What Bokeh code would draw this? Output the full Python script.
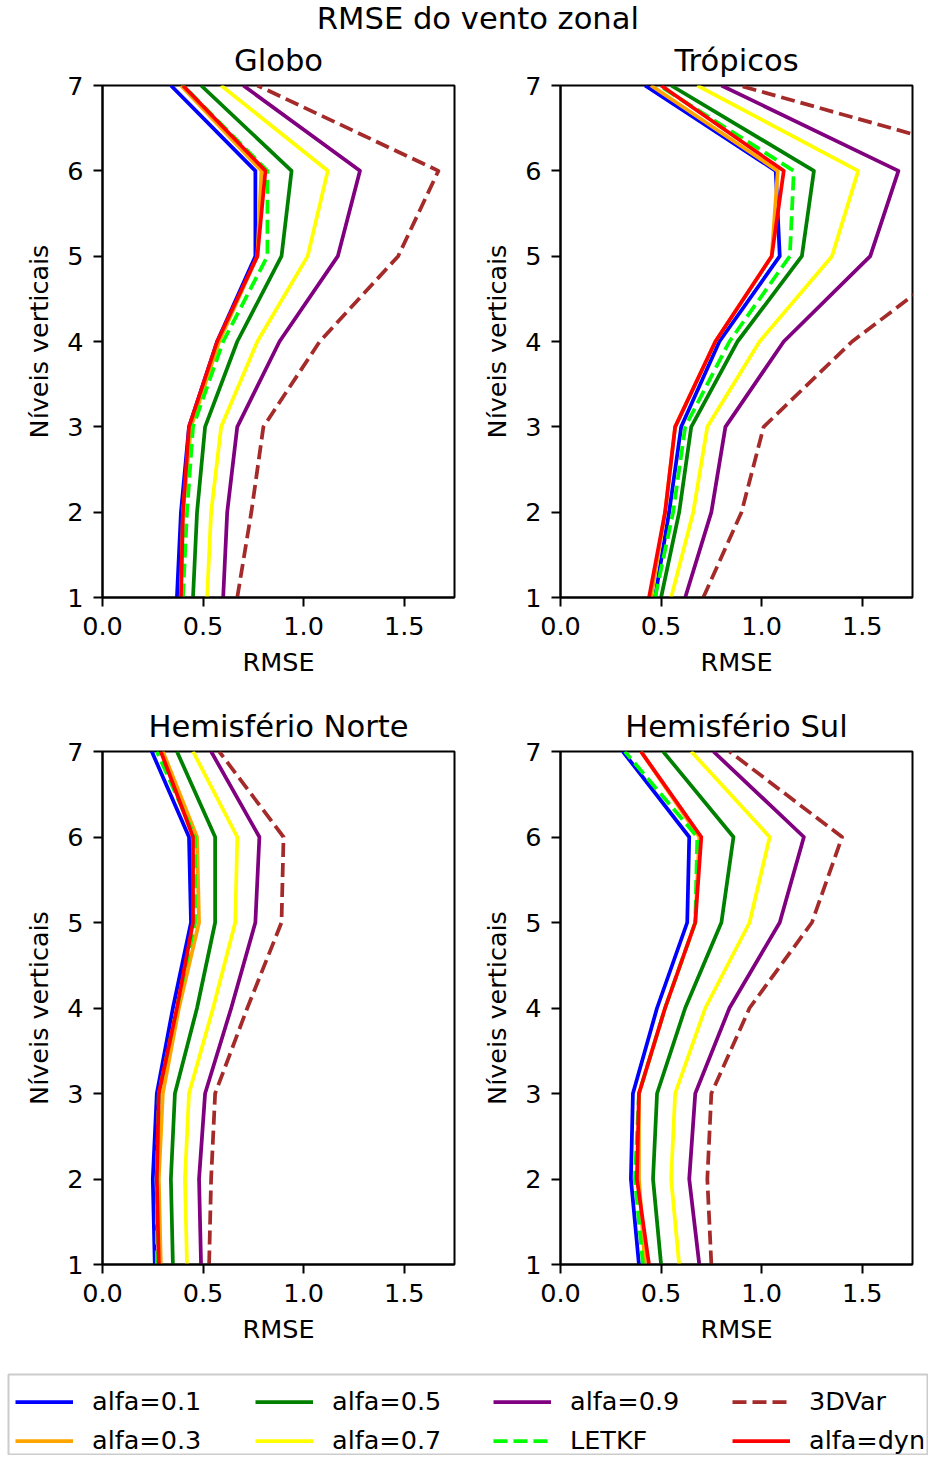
from bokeh.plotting import figure
from bokeh.models import (Range1d, FixedTicker, NumeralTickFormatter, Label, Legend,
                          LegendItem, ColumnDataSource)
from bokeh.layouts import column, row
from bokeh.embed import file_html
from bokeh.resources import INLINE

# ---------------- data ----------------
levels = [1, 2, 3, 4, 5, 6, 7]
x_ticks = [0.0, 0.5, 1.0, 1.5]
y_ticks = [1, 2, 3, 4, 5, 6, 7]
x_limits = (0, 1.75)
y_limits = (1, 7)

series_names = ["alfa=0.1", "alfa=0.3", "alfa=0.5", "alfa=0.7",
                "alfa=0.9", "LETKF", "3DVar", "alfa=dyn"]
series_colors = ["#0000ff", "#ffa500", "#008000", "#ffff00",
                 "#800080", "#00ff00", "#a52a2a", "#ff0000"]
series_dashes = ["solid", "solid", "solid", "solid",
                 "solid", "14 6", "14 6", "solid"]

main_title = "RMSE do vento zonal"
panel_titles = ["Globo", "Trópicos", "Hemisfério Norte", "Hemisfério Sul"]

# RMSE per level (levels 1..7)
globo_a01 = [0.37, 0.39, 0.43, 0.57, 0.76, 0.76, 0.34]
globo_a03 = [0.39, 0.40, 0.44, 0.58, 0.77, 0.79, 0.39]
globo_a05 = [0.45, 0.47, 0.51, 0.67, 0.89, 0.94, 0.49]
globo_a07 = [0.52, 0.54, 0.59, 0.77, 1.02, 1.12, 0.59]
globo_a09 = [0.60, 0.62, 0.67, 0.88, 1.17, 1.28, 0.70]
globo_letkf = [0.40, 0.42, 0.45, 0.60, 0.82, 0.82, 0.40]
globo_3dvar = [0.67, 0.74, 0.80, 1.08, 1.47, 1.67, 0.77]
globo_dyn = [0.39, 0.40, 0.43, 0.57, 0.77, 0.81, 0.40]

trop_a01 = [0.47, 0.54, 0.60, 0.79, 1.09, 1.07, 0.42]
trop_a03 = [0.45, 0.52, 0.57, 0.77, 1.05, 1.08, 0.45]
trop_a05 = [0.50, 0.59, 0.65, 0.88, 1.20, 1.26, 0.55]
trop_a07 = [0.55, 0.66, 0.73, 0.99, 1.35, 1.48, 0.68]
trop_a09 = [0.62, 0.75, 0.82, 1.11, 1.54, 1.68, 0.80]
trop_letkf = [0.47, 0.56, 0.62, 0.84, 1.14, 1.16, 0.49]
trop_3dvar = [0.71, 0.90, 1.01, 1.45, 2.01, 2.40, 0.89]
trop_dyn = [0.44, 0.52, 0.57, 0.77, 1.05, 1.11, 0.50]

hn_a01 = [0.26, 0.25, 0.27, 0.35, 0.44, 0.43, 0.245]
hn_a03 = [0.29, 0.28, 0.30, 0.38, 0.48, 0.47, 0.30]
hn_a05 = [0.35, 0.34, 0.36, 0.47, 0.56, 0.56, 0.37]
hn_a07 = [0.42, 0.41, 0.43, 0.55, 0.66, 0.67, 0.45]
hn_a09 = [0.49, 0.48, 0.51, 0.64, 0.76, 0.78, 0.54]
hn_letkf = [0.27, 0.27, 0.28, 0.37, 0.46, 0.46, 0.27]
hn_3dvar = [0.53, 0.54, 0.56, 0.72, 0.89, 0.90, 0.58]
hn_dyn = [0.28, 0.27, 0.28, 0.37, 0.45, 0.45, 0.29]

hs_a01 = [0.39, 0.35, 0.36, 0.48, 0.63, 0.64, 0.31]
hs_a03 = [0.42, 0.39, 0.39, 0.52, 0.67, 0.69, 0.40]
hs_a05 = [0.50, 0.46, 0.48, 0.62, 0.80, 0.86, 0.51]
hs_a07 = [0.59, 0.55, 0.57, 0.72, 0.94, 1.04, 0.65]
hs_a09 = [0.69, 0.64, 0.67, 0.84, 1.09, 1.21, 0.76]
hs_letkf = [0.41, 0.37, 0.39, 0.52, 0.67, 0.68, 0.32]
hs_3dvar = [0.75, 0.73, 0.75, 0.94, 1.25, 1.40, 0.84]
hs_dyn = [0.44, 0.38, 0.39, 0.52, 0.67, 0.70, 0.40]

panel_data = [
    [globo_a01, globo_a03, globo_a05, globo_a07, globo_a09, globo_letkf, globo_3dvar, globo_dyn],
    [trop_a01, trop_a03, trop_a05, trop_a07, trop_a09, trop_letkf, trop_3dvar, trop_dyn],
    [hn_a01, hn_a03, hn_a05, hn_a07, hn_a09, hn_letkf, hn_3dvar, hn_dyn],
    [hs_a01, hs_a03, hs_a05, hs_a07, hs_a09, hs_letkf, hs_3dvar, hs_dyn],
]

FONT = "DejaVu Sans"
TICK_FS = "25.5px"
TITLE_FS = "30.6px"
LW = 3.75


def make_panel(title, data, left, top, bottom, height, valign, standoff):
    p = figure(width=left + 352 + 12, height=height,
               x_range=Range1d(*x_limits), y_range=Range1d(*y_limits),
               toolbar_location=None, output_backend="svg", title=title,
               min_border_left=left, min_border_right=12,
               min_border_top=top, min_border_bottom=bottom,
               x_axis_label="RMSE", y_axis_label="Níveis verticais")
    p.title.text_font = FONT
    p.title.text_font_size = TITLE_FS
    p.title.text_font_style = "normal"
    p.title.text_color = "black"
    p.title.align = "center"
    p.title.vertical_align = valign
    p.title.standoff = standoff
    p.grid.visible = False
    p.outline_line_color = "black"
    p.outline_line_width = 2
    p.outline_line_alpha = 1
    p.xaxis.ticker = FixedTicker(ticks=x_ticks)
    p.xaxis.formatter = NumeralTickFormatter(format="0.0")
    p.yaxis.ticker = FixedTicker(ticks=y_ticks)
    for ax in (p.xaxis[0], p.yaxis[0]):
        ax.axis_line_width = 2
        ax.major_tick_line_width = 2
        ax.major_tick_out = 9
        ax.major_tick_in = 0
        ax.minor_tick_line_color = None
        ax.major_label_text_font = FONT
        ax.major_label_text_font_size = TICK_FS
        ax.major_label_text_color = "black"
        ax.axis_label_text_font = FONT
        ax.axis_label_text_font_size = TICK_FS
        ax.axis_label_text_font_style = "normal"
        ax.axis_label_text_color = "black"
    p.xaxis.major_label_standoff = 10
    p.xaxis.axis_label_standoff = 9
    p.yaxis.major_label_standoff = 10
    p.yaxis.axis_label_standoff = 10
    for vals, col, dash in zip(data, series_colors, series_dashes):
        src = ColumnDataSource(dict(x=vals, y=levels))
        p.line("x", "y", source=src, line_color=col, line_width=LW, line_dash=dash,
               line_join="round")
    return p


# header with the global title
header = figure(width=928, height=36, x_range=Range1d(0, 928), y_range=Range1d(0, 36),
                toolbar_location=None, output_backend="svg", min_border=0, title=None,
                x_axis_type=None, y_axis_type=None, outline_line_color=None)
header.grid.visible = False
header.add_layout(Label(x=474, y=18, text=main_title, text_align="center",
                        text_baseline="middle", text_font=FONT,
                        text_font_size=TITLE_FS, text_color="black"))

f1 = make_panel(panel_titles[0], panel_data[0], 102, 49, 90, 651, "top", 10.5)
f2 = make_panel(panel_titles[1], panel_data[1], 94, 49, 90, 651, "top", 10.5)
f3 = make_panel(panel_titles[2], panel_data[2], 102, 64, 109, 686, "bottom", 16)
f4 = make_panel(panel_titles[3], panel_data[3], 94, 64, 109, 686, "bottom", 16)

# legend strip
lf = figure(width=928, height=82, x_range=Range1d(0, 1), y_range=Range1d(0, 1),
            toolbar_location=None, output_backend="svg", title=None,
            min_border_left=8, min_border_right=1, min_border_top=1, min_border_bottom=1,
            x_axis_type=None, y_axis_type=None)
lf.grid.visible = False
lf.outline_line_color = "#cccccc"
lf.outline_line_width = 2
lf.outline_line_alpha = 1

# legend-only renderers: their points lie outside the strip's ranges
legend_x = [2, 3]
legend_y = [2, 3]
renderers = []
for name, col, dash in zip(series_names, series_colors, series_dashes):
    r = lf.line(x=legend_x, y=legend_y, line_color=col, line_width=LW, line_dash=dash)
    renderers.append(r)

col_x = [7, 247, 485, 724]
for c in range(4):
    items = [LegendItem(label=series_names[2 * c + k], renderers=[renderers[2 * c + k]])
             for k in range(2)]
    leg = Legend(items=items, location=(col_x[c], -1), orientation="vertical",
                 padding=0, spacing=9, margin=0, glyph_width=58, glyph_height=29,
                 label_height=29, label_standoff=19, label_text_font=FONT,
                 label_text_font_size=TICK_FS, label_text_color="black",
                 border_line_color=None, background_fill_alpha=0)
    lf.add_layout(leg)

layout = column(header, row(f1, f2), row(f3, f4), lf)

with open("out.html", "w") as fh:
    fh.write(file_html(layout, INLINE))
